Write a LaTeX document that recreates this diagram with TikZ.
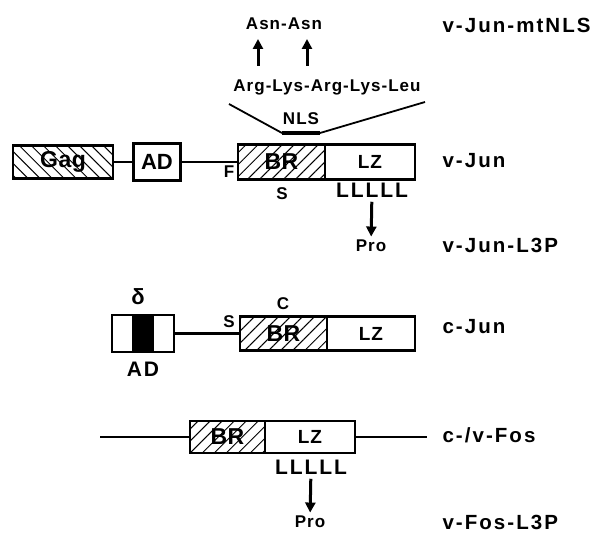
\documentclass[tikz,border=0pt]{standalone}
\usepackage{fontspec}
\setmainfont{Liberation Sans}
\usetikzlibrary{positioning,arrows.meta,patterns.meta}

\tikzset{
  dom/.style={draw, line width=2.8pt, inner sep=0pt, outer sep=0pt, minimum height=34pt,
    font=\bfseries\fontsize{23}{23}\selectfont\addfontfeature{LetterSpace=2}},
  small/.style={font=\bfseries\fontsize{19}{19}\selectfont\addfontfeature{LetterSpace=5}},
  hatchR/.style={pattern={Lines[angle=45,distance=8.5pt,line width=1pt]}},
  hatchL/.style={pattern={Lines[angle=-45,distance=8.5pt,line width=1pt]}},
  lbl/.style={anchor=west, font=\bfseries\fontsize{20.5}{20.5}\selectfont\addfontfeature{LetterSpace=10}},
  res/.style={font=\bfseries\fontsize{17}{17}\selectfont\addfontfeature{LetterSpace=6}},
  leu/.style={font=\bfseries\fontsize{21}{21}\selectfont\addfontfeature{LetterSpace=9}},
  link/.style={line width=2.4pt},
  mut/.style={-{Triangle[length=10pt,width=10pt]}, line width=3pt, shorten <=1pt},
}

\begin{document}
\begin{tikzpicture}[x=1pt,y=-1pt]
  \useasboundingbox (0,0) rectangle (602,535);

  % v-Jun
  \node[dom, hatchL, minimum width=100pt, minimum height=33pt] (gag) at (63,162) {Gag};
  \node[dom, minimum width=47pt, minimum height=37pt, font=\bfseries\fontsize{22}{22}\selectfont] (vad) at (157,162) {AD};
  \node[dom, hatchR, minimum width=87pt, minimum height=35pt] (vbr) at (281.5,162) {BR};
  \node[dom, small, minimum width=90pt, minimum height=35pt, anchor=west] (vlz) at (vbr.east) {LZ};
  \draw[link] (gag) -- (vad);
  \draw[link] (vad) -- (vbr);
  \node[res] (vf) at (229,172) {F};
  \node[res] (vs) at (282,194) {S};
  \node[leu] (vleu) at (372,190) {LLLLL};
  \node[res] (vpro) at (371,246) {Pro};
  \draw[mut] (vleu) -- (vpro);

  % NLS and mutant
  \coordinate (nlsL) at (282,133);
  \coordinate (nlsR) at (320,133);
  \draw[line width=4.5pt] (nlsL) -- (nlsR);
  \node[res] (nls) at (301,119) {NLS};
  \node[res] (seq) at (327,87) {Arg-Lys-Arg-Lys-Leu};
  \coordinate (seqL) at (229,104);
  \coordinate (seqR) at (425,102);
  \draw[line width=1.8pt] (seqL) -- (nlsL);
  \draw[line width=1.8pt] (nlsR) -- (seqR);
  \node[res] (asn) at (284,24) {Asn-Asn};
  \coordinate (k1) at (258,67);
  \coordinate (k2) at (307,67);
  \coordinate (n1) at (258,39);
  \coordinate (n2) at (307,39);
  \draw[mut] (k1) -- (n1);
  \draw[mut] (k2) -- (n2);

  % c-Jun
  \node[dom, minimum width=62pt, minimum height=37pt] (cad) at (143,333.5) {};
  \fill ([xshift=-11pt]cad.north) rectangle ([xshift=11pt]cad.south);
  \node[dom, hatchR, minimum width=87pt, minimum height=34pt] (cbr) at (283.5,333.5) {BR};
  \node[dom, small, minimum width=88pt, minimum height=34pt, anchor=west] (clz) at (cbr.east) {LZ};
  \draw[link] (cad) -- (cbr);
  \node[font=\bfseries\fontsize{22}{22}\selectfont] (delta) at (138,297) {δ};
  \node[leu] (cadl) at (143,369) {AD};
  \node[res] (cs) at (229,322) {S};
  \node[res] (cc) at (283,304) {C};

  % c-/v-Fos
  \node[dom, hatchR, minimum width=75pt, minimum height=32pt] (fbr) at (227.5,437) {BR};
  \node[dom, small, minimum width=90pt, minimum height=32pt, anchor=west] (flz) at (fbr.east) {LZ};
  \coordinate (fosL) at (100,437);
  \coordinate (fosR) at (427,437);
  \draw[link] (fosL) -- (fbr);
  \draw[link] (flz) -- (fosR);
  \node[leu] (fleu) at (311,467) {LLLLL};
  \node[res] (fpro) at (310,522) {Pro};
  \draw[mut] (fleu) -- (fpro);

  % names
  \node[lbl] (l1) at (439,25) {v-Jun-mtNLS};
  \node[lbl] (l2) at (439,161) {v-Jun};
  \node[lbl] (l3) at (439,245) {v-Jun-L3P};
  \node[lbl] (l4) at (439,327) {c-Jun};
  \node[lbl] (l5) at (439,435) {c-/v-Fos};
  \node[lbl] (l6) at (439,522) {v-Fos-L3P};
\end{tikzpicture}
\end{document}
